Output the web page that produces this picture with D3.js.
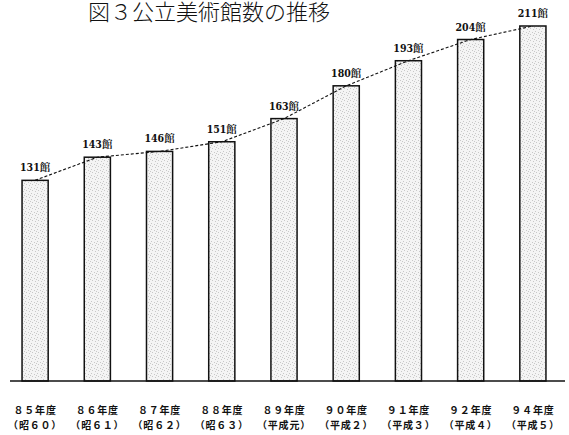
<!DOCTYPE html>
<html lang="ja">
<head>
<meta charset="utf-8">
<script src="https://cdn.jsdelivr.net/npm/d3@7"></script>
<style>
  html, body { margin: 0; padding: 0; background: #fff; }
  svg { display: block; }
</style>
</head>
<body>
<svg id="chart" width="569" height="435"></svg>
<script>
// 公立美術館数の推移
const years   = ["８５年度", "８６年度", "８７年度", "８８年度", "８９年度", "９０年度", "９１年度", "９２年度", "９４年度"];
const eras    = ["（昭６０）", "（昭６１）", "（昭６２）", "（昭６３）", "（平成元）", "（平成２）", "（平成３）", "（平成４）", "（平成５）"];
const museums = [131, 143, 146, 151, 163, 180, 193, 204, 211];
const unit    = "館";
const title   = "図３公立美術館数の推移";

const svg = d3.select("#chart");
const baseY = 381;

const x = d3.scaleBand()
  .domain(years)
  .range([4, 564])
  .paddingInner(0.58)
  .paddingOuter(0.29);

// truncated value axis: bars start well above zero
const y = d3.scaleLinear()
  .domain([27, 211])
  .range([baseY, 26]);

// light stipple texture for bar fill
const defs = svg.append("defs");
const pat = defs.append("pattern")
  .attr("id", "stipple")
  .attr("patternUnits", "userSpaceOnUse")
  .attr("width", 6).attr("height", 6);
pat.append("rect").attr("width", 6).attr("height", 6).attr("fill", "#f4f4f4");
[[1,1],[4,2],[2,4],[5,5],[0,3]].forEach(([cx, cy]) =>
  pat.append("rect").attr("x", cx).attr("y", cy).attr("width", 1).attr("height", 1).attr("fill", "#c8c8c8"));

// title
svg.append("text")
  .attr("x", 209).attr("y", 20)
  .attr("text-anchor", "middle")
  .attr("font-family", "'Noto Sans CJK JP', sans-serif")
  .attr("font-weight", 300)
  .attr("font-size", 22)
  .attr("fill", "#111")
  .text(title);

// bars
svg.append("g").selectAll("rect")
  .data(museums)
  .join("rect")
  .attr("x", (d, i) => x(years[i]))
  .attr("y", d => y(d))
  .attr("width", x.bandwidth())
  .attr("height", d => baseY - y(d))
  .attr("fill", "url(#stipple)")
  .attr("stroke", "#111")
  .attr("stroke-width", 1.5);

// dashed trend line through bar tops
const line = d3.line()
  .x((d, i) => x(years[i]) + x.bandwidth() / 2)
  .y(d => y(d));
svg.append("path")
  .datum(museums)
  .attr("d", line)
  .attr("fill", "none")
  .attr("stroke", "#111")
  .attr("stroke-width", 1.1)
  .attr("stroke-dasharray", "3,2");

// value labels
svg.append("g").selectAll("text")
  .data(museums)
  .join("text")
  .attr("x", (d, i) => x(years[i]) + x.bandwidth() / 2)
  .attr("y", d => y(d) - 9)
  .attr("text-anchor", "middle")
  .attr("font-family", "'DejaVu Serif Condensed', 'Noto Serif CJK JP', 'Noto Sans CJK JP', serif")
  .attr("font-weight", "bold")
  .attr("font-size", 10.5)
  .attr("fill", "#111")
  .text(d => d + unit);

// baseline
svg.append("line")
  .attr("x1", 10).attr("x2", 565)
  .attr("y1", baseY).attr("y2", baseY)
  .attr("stroke", "#111")
  .attr("stroke-width", 1.5);

// category labels (two lines)
const cat = svg.append("g")
  .attr("font-family", "'Noto Sans CJK JP', sans-serif")
  .attr("font-weight", 700)
  .attr("font-size", 10)
  .attr("letter-spacing", 0.8)
  .attr("fill", "#111")
  .attr("text-anchor", "middle");
cat.selectAll("text.yr")
  .data(years)
  .join("text")
  .attr("class", "yr")
  .attr("x", d => x(d) + x.bandwidth() / 2)
  .attr("y", 414)
  .text(d => d);
cat.selectAll("text.era")
  .data(eras)
  .join("text")
  .attr("class", "era")
  .attr("x", (d, i) => x(years[i]) + x.bandwidth() / 2)
  .attr("y", 428.5)
  .text(d => d);
</script>
</body>
</html>
